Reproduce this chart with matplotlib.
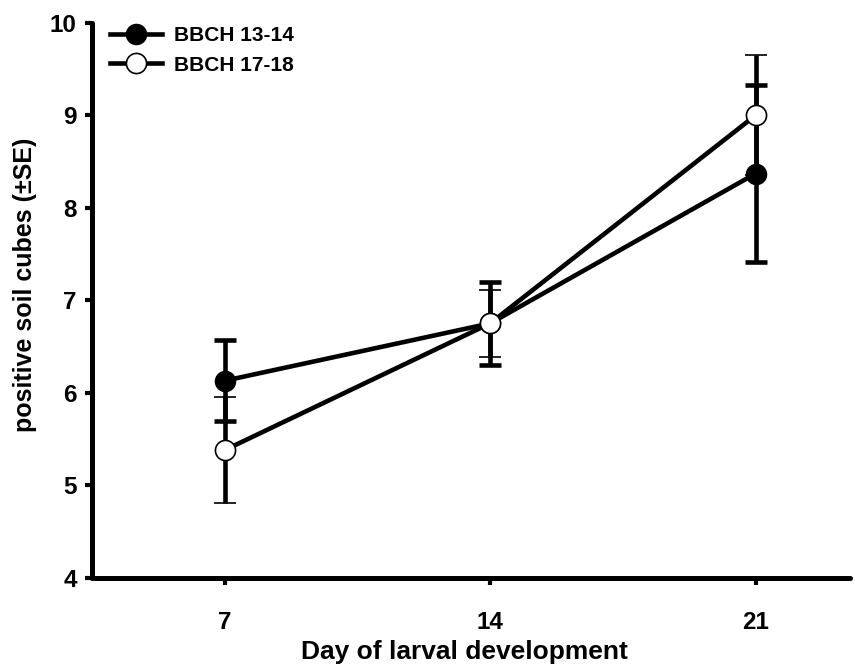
import numpy as np
import matplotlib.pyplot as plt

plt.rcParams['font.family'] = ['Liberation Sans', 'DejaVu Sans']
plt.rcParams['font.weight'] = 'bold'

days = [7, 14, 21]
early_mean = [6.13, 6.75, 8.37]
early_se = [0.44, 0.45, 0.96]
late_mean = [5.38, 6.75, 9.00]
late_se = [0.57, 0.36, 0.65]

fig = plt.figure(figsize=(8.55, 6.71), dpi=100)
ax = fig.add_axes([0.1076, 0.139, 0.887, 0.827])

ax.errorbar(days, early_mean, yerr=early_se, color='black', lw=3.3, elinewidth=3.3,
            capsize=8, capthick=3.3, marker='o', ms=14.5, mfc='black', mec='black',
            label='BBCH 13-14', zorder=3)
ax.errorbar(days, late_mean, yerr=late_se, color='black', lw=3.3, elinewidth=3.3,
            capsize=8, capthick=3.3, marker='o', ms=14.5, mfc='white', mec='black', mew=1.2,
            label='BBCH 17-18', zorder=4)

ax.set_xlim(3.5, 23.5)
ax.set_ylim(4, 10)
ax.set_xticks(days)
ax.set_yticks(range(4, 11))

for s in ['top', 'right']:
    ax.spines[s].set_visible(False)
for s in ['left', 'bottom']:
    ax.spines[s].set_linewidth(3.6)
    ax.spines[s].set_capstyle('round')

ax.tick_params(width=3, length=5, labelsize=17.5)
ax.tick_params(axis='y', pad=6)
ax.tick_params(axis='x', pad=19)
for lab in ax.get_xticklabels() + ax.get_yticklabels():
    lab.set_fontweight('bold')

ax.set_xlabel('Day of larval development', fontsize=19, fontweight='bold')
ax.set_ylabel('positive soil cubes (±SE)', fontsize=18, fontweight='bold')
ax.xaxis.set_label_coords(0.491, -0.113)
ax.yaxis.set_label_coords(-0.0726, 0.527)

handles, labels = ax.get_legend_handles_labels()
handles = [h[0] for h in handles]
leg = ax.legend(handles, labels, loc='upper left', bbox_to_anchor=(0.005, 1.02),
                frameon=False, prop={'weight': 'bold', 'size': 15},
                handlelength=2.5, handletextpad=0.55, labelspacing=0.5,
                borderaxespad=0.3)

fig.savefig('out.png', dpi=100)
